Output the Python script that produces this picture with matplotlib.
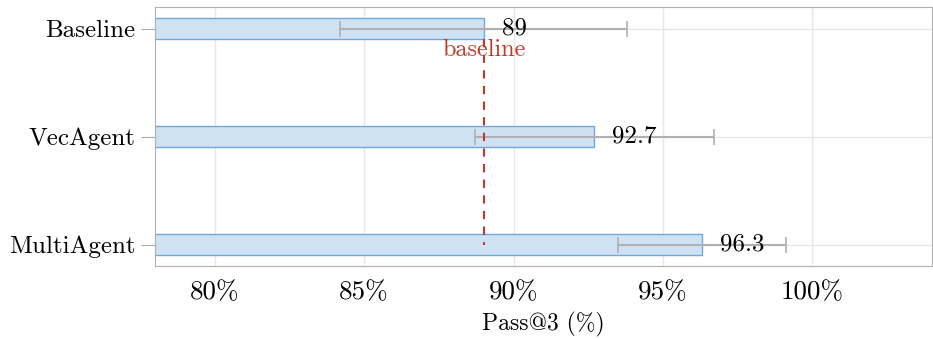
import matplotlib.pyplot as plt
from matplotlib.ticker import FuncFormatter

plt.rcParams['font.family'] = ['cmr10', 'DejaVu Serif']
plt.rcParams['mathtext.fontset'] = 'cm'
plt.rcParams['axes.formatter.use_mathtext'] = True

# Data
methods = ['Baseline', 'VecAgent', 'MultiAgent']
pass3 = [89.0, 92.7, 96.3]
err = [4.8, 4.0, 2.8]
baseline_value = 89.0

fig, ax = plt.subplots(figsize=(9.33, 3.39), dpi=100)
y = list(range(len(methods)))

ax.barh(y, pass3, height=0.2, color='#cfe2f3', edgecolor='#6fa8dc', linewidth=1.0, zorder=2)
ax.errorbar(pass3, y, xerr=err, fmt='none', ecolor='#b0b0b0', elinewidth=1.5,
            capsize=6, capthick=1.2, zorder=3)

for yi, v in zip(y, pass3):
    ax.text(v + 0.6, yi, f'{v:g}', va='center', ha='left', fontsize=18, zorder=4)

# baseline reference line
ax.plot([baseline_value, baseline_value], [0.1, 2.0], color='#c0392b', linestyle='--',
        linewidth=1.5, dashes=(4, 3.5), zorder=4)
ax.text(baseline_value, 0.2, 'baseline', color='#c0392b', ha='center', va='center',
        fontsize=17.5, zorder=5)

ax.set_yticks(y)
ax.set_yticklabels(methods, fontsize=18)
ax.set_ylim(2.2, -0.2)
ax.set_xlim(78, 104)
ax.set_xticks([80, 85, 90, 95, 100])
ax.xaxis.set_major_formatter(FuncFormatter(lambda v, p: f'{v:.0f}%'))
ax.tick_params(axis='x', labelsize=19.5, length=0, pad=10)
ax.tick_params(axis='y', length=10, color='#aaaaaa', pad=4)
ax.set_xlabel('Pass@3 (%)', fontsize=17, labelpad=6)

ax.grid(True, color='#e6e6e6', linewidth=1.0, zorder=0)
ax.set_axisbelow(True)
for s in ax.spines.values():
    s.set_color('#b0b0b0')

plt.subplots_adjust(left=0.166, right=0.999, top=0.979, bottom=0.215)
plt.savefig('out.png', dpi=100)
